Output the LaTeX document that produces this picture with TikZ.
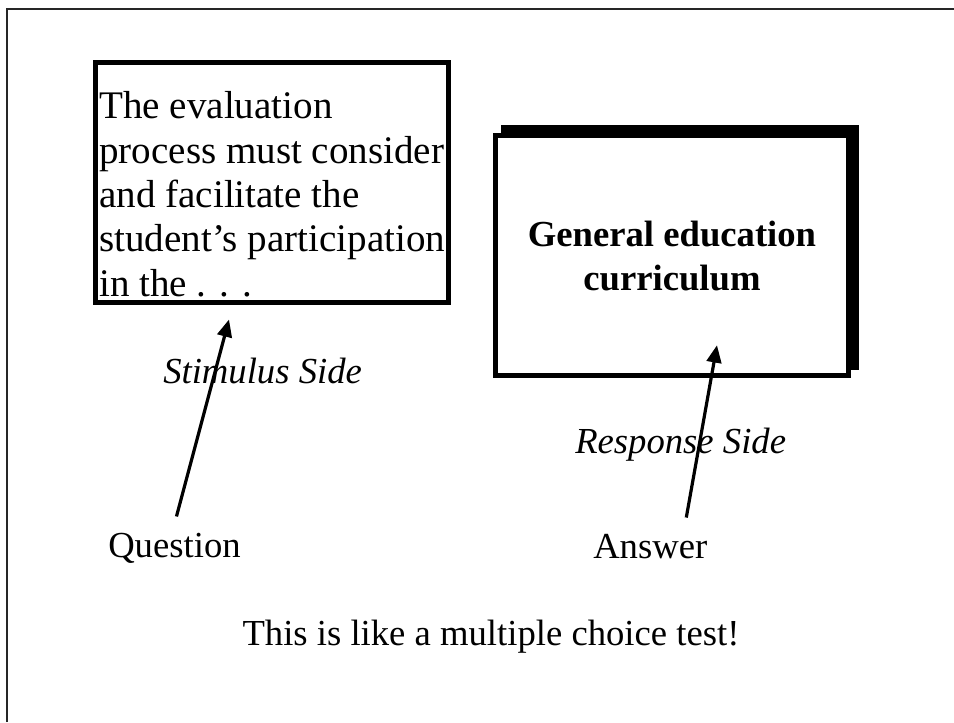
\documentclass[tikz,border=0pt]{standalone}
\usepackage{fontspec}
\setmainfont{Liberation Serif}
\usetikzlibrary{arrows.meta,positioning,calc}

\tikzset{
	slidefont/.style={font=\fontsize{27.5}{33.2}\selectfont},
	label/.style={slidefont,anchor=base west,inner sep=0pt},
	thickbox/.style={draw,line width=3.9pt,fill=white,inner sep=0pt,outer sep=0pt},
	pointer/.style={line width=2.4pt,-{Triangle[length=13pt,width=11pt]}},
}

\begin{document}
	\begin{tikzpicture}[x=0.75pt,y=-0.75pt]
		\useasboundingbox (0,0) rectangle (954,722);
		\draw[line width=1pt,black!85] (7,722) -- (7,9) -- (954,9);
		%
		\node[thickbox,minimum width=264.75pt,minimum height=180pt] (stimbox) at (272,182.5) {};
		\node[label,font=\fontsize{29.3}{33.2}\selectfont,align=left] (stimtext) at (99,296) {The evaluation\\process must consider\\and facilitate the\\student’s participation\\in the . . .};
		%
		\node[fill=black,inner sep=0pt,minimum width=268.5pt,minimum height=183.75pt] (respshadow) at (680,247.5) {};
		\node[thickbox,minimum width=264.4pt,minimum height=179.6pt] (respbox) at (672,255.5) {};
		\node[slidefont,font=\fontsize{27.5}{33}\selectfont\bfseries,align=center,anchor=base,inner sep=0pt] (resptext) at (672,290) {General education\\curriculum};
		%
		\node[label,font=\fontsize{27.5}{33}\selectfont\itshape] (stimside) at (163,383) {Stimulus Side};
		\node[label,font=\fontsize{27.5}{33}\selectfont\itshape] (respside) at (575,453) {Response Side};
		\node[label] (question) at (108,557) {Question};
		\node[label] (answer) at (593,558) {Answer};
		\node[slidefont,anchor=base,inner sep=0pt] (remark) at (491,645) {This is like a multiple choice test!};
		%
		\coordinate (qtail) at ($(question.north)+(2,-16)$);
		\coordinate (qtip) at ($(stimbox.south)+(-43,17)$);
		\coordinate (atail) at ($(answer.north)+(36,-16)$);
		\coordinate (atip) at ($(respbox.south)+(45,-30)$);
		\draw[pointer] (qtail) -- (qtip);
		\draw[pointer] (atail) -- (atip);
	\end{tikzpicture}
\end{document}
